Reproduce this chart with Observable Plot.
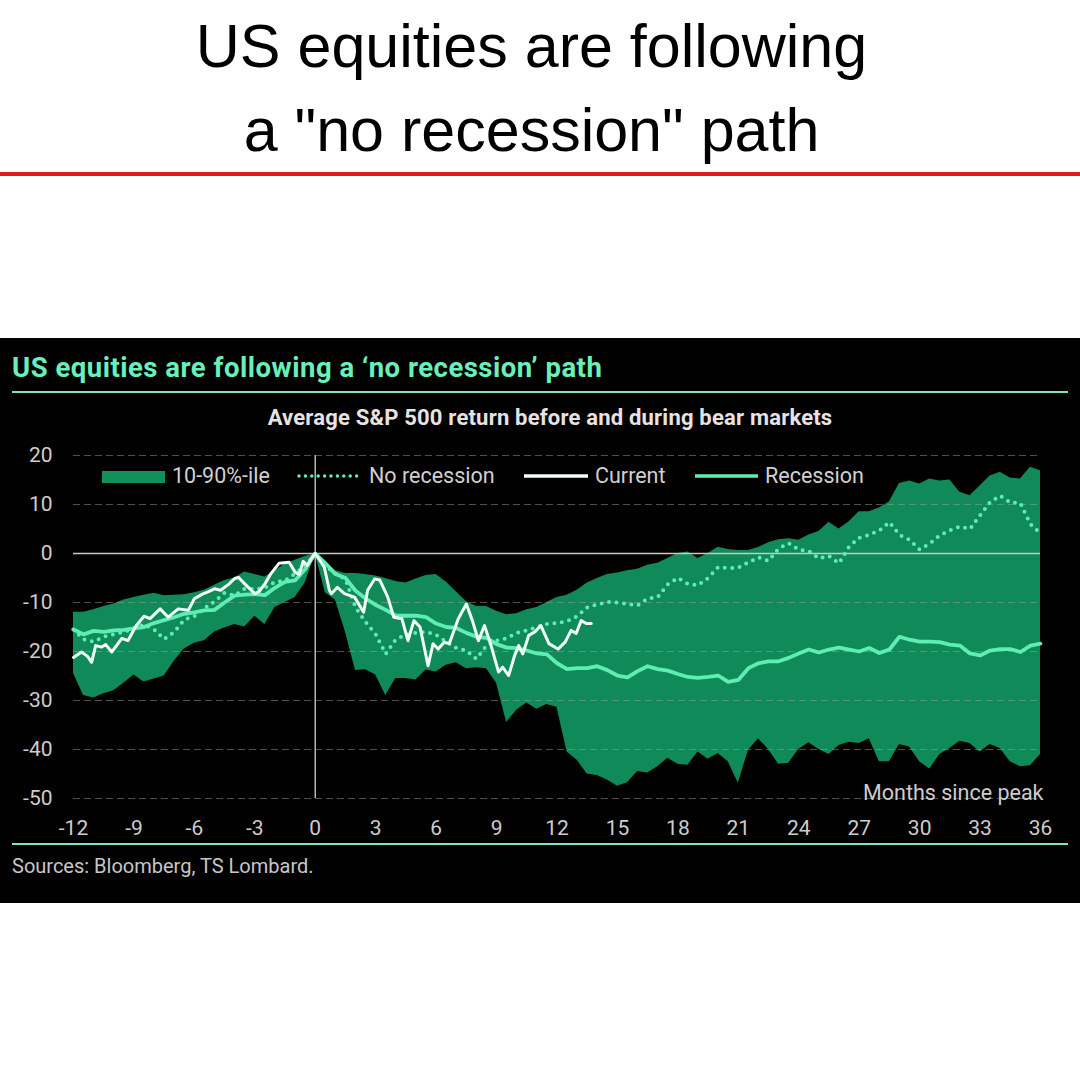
<!DOCTYPE html>
<html><head><meta charset="utf-8">
<script src="https://cdn.jsdelivr.net/npm/d3@7"></script>
<script src="https://cdn.jsdelivr.net/npm/@observablehq/plot@0.6"></script>
<style>
html,body{margin:0;padding:0}
body{width:1080px;height:1080px;background:#fff;position:relative;overflow:hidden;font-family:Roboto,"Noto Sans",sans-serif}
#title{position:absolute;left:0;top:4px;width:1063px;text-align:center;font-family:"Liberation Sans",Arial,sans-serif;font-size:61px;line-height:84px;color:#000}
#redline{position:absolute;left:0;top:172px;width:1080px;height:4px;background:#e01b1b}
#panel{position:absolute;left:0;top:338px;width:1080px;height:565px;background:#000}
#ptitle{position:absolute;left:12px;top:16px;font-size:27.5px;line-height:27.5px;letter-spacing:0.5px;font-weight:bold;color:#6aefbb;white-space:nowrap}
.hr{position:absolute;left:12px;width:1056px;height:1.5px;background:#7fe3c0}
#psub{position:absolute;left:20px;width:1060px;top:69px;text-align:center;font-size:22px;line-height:22px;letter-spacing:0.2px;font-weight:bold;color:#e8e2e2;white-space:nowrap}
#chart{position:absolute;left:0;top:102px}
.lg{position:absolute;font-size:21.5px;line-height:21.5px;color:#d2cfcf;white-space:nowrap}
.sw{position:absolute}
#source{position:absolute;left:12px;top:518px;font-size:20px;line-height:20px;color:#c8c6c6;white-space:nowrap}
</style></head><body>
<div id="title">US equities are following<br>a "no recession" path</div>
<div id="redline"></div>
<div id="panel">
  <div id="ptitle">US equities are following a ‘no recession’ path</div>
  <div class="hr" style="top:53px"></div>
  <div id="psub">Average S&amp;P 500 return before and during bear markets</div>
  <div id="chart"></div>
  <div id="legend"></div>
  <div class="hr" style="top:505px"></div>
  <div id="source">Sources: Bloomberg, TS Lombard.</div>
</div>
<script>
// ---- data ----
const months = [
 -12,-11.5,-11,-10.5,-10,-9.5,-9,-8.5,-8,-7.5,-7,-6.5,-6,-5.5,-5,-4.5,-4,-3.5,-3,-2.5,-2,-1.5,-1,-0.5,
 0,0.5,1,1.5,2,2.5,3,3.5,4,4.5,5,5.5,6,6.5,7,7.5,8,8.5,9,9.5,10,10.5,11,11.5,
 12,12.5,13,13.5,14,14.5,15,15.5,16,16.5,17,17.5,18,18.5,19,19.5,20,20.5,21,21.5,22,22.5,23,23.5,
 24,24.5,25,25.5,26,26.5,27,27.5,28,28.5,29,29.5,30,30.5,31,31.5,32,32.5,33,33.5,34,34.5,35,35.5,
 36];
const bandUpper = [
 -12,-12,-11.5,-10.8,-10.3,-9.5,-9,-8.5,-8.1,-8.6,-8.5,-8.4,-8,-7.5,-6.5,-5.5,-5,-3.8,-4.3,-4.8,-3.5,-2.2,-1.4,-0.6,
 0,-1.5,-3.5,-4.1,-4.1,-4.3,-4.6,-5.1,-5.7,-6,-5.2,-4.5,-4.3,-5.8,-7.8,-9.8,-10.8,-10.8,-11.8,-12.5,-12.3,-11.5,-11,-10,
 -9,-8.5,-7.5,-6,-5.1,-4.3,-4,-3.5,-3.2,-2.4,-2,-1,0,0.3,-1,0,1.3,0.8,0.6,0.6,1.2,2.2,2.8,3,
 2.7,3.8,4.5,6.4,5,6.5,8.5,8.5,9.3,10.5,14.3,14.8,14.2,15.2,14.8,15,12.5,11.8,13.8,15.8,16.6,15.4,15.2,17.6,
 16.9];
const bandLower = [
 -24.5,-29,-29.5,-28.6,-28,-26.5,-24.8,-26.2,-25.6,-25,-22,-19.5,-18.3,-17.8,-16,-15.2,-14.5,-15,-12.8,-14.5,-11,-10,-9,-6,
 0,-8,-9.5,-16,-23.9,-23.7,-24.8,-29,-25.5,-25.5,-25.8,-23.8,-24.2,-22.8,-22.3,-23.5,-23.3,-23.5,-26.5,-34.5,-32,-30.5,-31.8,-30.8,
 -31.4,-40.5,-42.2,-45,-45.3,-46.2,-47.5,-46.8,-44.5,-44.8,-43.5,-41.8,-43,-43.2,-40.5,-42,-40.8,-42.5,-46.9,-40.2,-37.8,-40,-43,-42.8,
 -40,-38.6,-40,-41,-39.2,-38.5,-38.8,-37.8,-42.5,-42.5,-39,-39.5,-42.5,-44,-41,-39.8,-38.3,-38.8,-40.5,-39,-39.8,-42.5,-43.5,-43.3,
 -41];
const recession = [
 -15.5,-16.5,-15.8,-16,-15.7,-15.6,-15.3,-15,-14.2,-13.6,-13,-12.3,-12,-11.6,-11.5,-10,-8.6,-8.4,-8.3,-8.5,-7,-5.8,-5.5,-3.2,
 0,-2,-4.2,-5,-7.6,-9.2,-10.5,-11.5,-12.7,-12.7,-12.7,-13,-14.3,-15,-15.2,-16.2,-17,-17.2,-18.5,-19.2,-19.3,-19.8,-20.4,-20.6,
 -22.4,-23.6,-23.4,-23.4,-23,-23.8,-24.9,-25.3,-24,-23,-23.6,-23.9,-24.6,-25.2,-25.4,-25.2,-24.9,-26.2,-25.8,-23.4,-22.4,-22,-22,-21.3,
 -20.4,-19.6,-20.2,-19.6,-19.2,-19.6,-20,-19.3,-20.3,-19.6,-17,-17.6,-18,-18,-18.1,-18.6,-18.8,-20.4,-20.8,-19.8,-19.5,-19.5,-20.1,-18.8,
 -18.4];
const noRecession = [
 -15.5,-17.5,-18,-17,-16.5,-16,-15.3,-14.5,-15.5,-17.5,-16,-13.5,-12.8,-11.2,-9.8,-8,-8.6,-7.2,-7.3,-7,-5.8,-5.5,-4.1,-2.5,
 0,-2.5,-4.1,-5.3,-11,-14,-16.5,-20.5,-17.5,-16.6,-16.2,-16,-16.6,-18,-19.3,-19.8,-21.5,-18.8,-17.8,-17.3,-16.2,-15.7,-15,-14.4,
 -14.2,-13.8,-12.8,-11,-10.4,-9.9,-10,-10.3,-10.6,-9.2,-8.9,-6.3,-5,-6.2,-6.5,-5,-2.8,-3,-2.9,-1.8,-0.8,-1.5,1,2.1,
 0.8,0.5,-1,-0.5,-2,1.4,3.2,3.8,4.7,6.4,3.8,2.8,0.8,2,3.7,4.7,5.5,5,7.8,10.5,11.8,10.4,10.3,6,
 4.1];
const currentMonths = [-12,-11.6,-11.3,-11.1,-10.9,-10.6,-10.4,-10.1,-9.6,-9.3,-8.9,-8.5,-8.2,-7.7,-7.3,-6.8,-6.3,-6,-5.6,-5.3,-5,-4.7,-4.3,-4,-3.8,-3.5,-3.3,-3,-2.8,-2.5,-2.2,-1.8,-1.3,-1,-0.8,-0.6,-0.4,-0.2,0,0.45,0.7,0.8,1.1,1.45,1.95,2.4,2.6,2.95,3.2,3.6,3.9,4.3,4.6,4.9,5.2,5.6,5.85,6.1,6.4,6.65,7.1,7.5,7.8,8.1,8.4,8.7,9.1,9.3,9.6,9.9,10.1,10.3,10.6,10.9,11.2,11.6,12.05,12.4,12.7,12.95,13.2,13.45,13.7];
const currentValues = [-21.2,-20.1,-21,-22.2,-18.8,-19.1,-18.6,-20.1,-17.3,-17.8,-14.8,-12.8,-13.3,-11.3,-13,-11.3,-11.6,-9.2,-8.3,-7.8,-7.2,-7.5,-6.3,-5.1,-4.9,-6.2,-7,-8.2,-7.8,-6.2,-4.1,-2,-1.8,-3.8,-4.3,-1.6,-2.4,-1,0,-2.8,-7.5,-8.2,-6.9,-8.2,-8.9,-12,-7.5,-5.2,-5.4,-8.9,-13,-13.3,-17.8,-13.7,-15,-22.9,-18.4,-19.5,-18.1,-18.4,-13.3,-10.3,-13.7,-17.8,-14.7,-18.4,-24.2,-23.2,-24.9,-20.8,-18.8,-20.5,-16.7,-16,-14.7,-18.4,-19.5,-18.1,-15.7,-16.3,-13.7,-14.3,-14.3];
const xTicks = [-12,-9,-6,-3,0,3,6,9,12,15,18,21,24,27,30,33,36];
const yTicks = [20,10,0,-10,-20,-30,-40,-50];
const legendLabels = ["10-90%-ile","No recession","Current","Recession"];
const xLabel = "Months since peak";

// ---- colours ----
const BAND = "#0f8a58", MINT = "#5eedb3", WHITE = "#f0fff8";

const table = months.map((m,i)=>({month:m, upper:bandUpper[i], lower:bandLower[i], recession:recession[i], noRecession:noRecession[i]}));
const current = currentMonths.map((m,i)=>({month:m, value:currentValues[i]}));

const chart = Plot.plot({
  width:1080, height:400,
  marginTop:15, marginBottom:42, marginLeft:73, marginRight:40,
  style:{background:"transparent", color:"#cfcccc", fontFamily:"Roboto, sans-serif", fontSize:"21px"},
  x:{domain:[-12,36], ticks:xTicks, label:null, tickSize:0, tickPadding:22, tickFormat:d=>String(d)},
  y:{domain:[-50,20], ticks:yTicks, label:null, tickSize:0, tickPadding:21, tickFormat:d=>String(d)},
  marks:[
    Plot.areaY(table,{x:"month", y1:"lower", y2:"upper", fill:BAND}),
    Plot.ruleY(yTicks.filter(d=>d!==0),{stroke:"#a0a0a0", strokeOpacity:0.5, strokeDasharray:"7,4", strokeWidth:1.2}),
    Plot.ruleX([0],{stroke:"#b5b5b5", strokeWidth:1.5}),
    Plot.ruleY([0],{stroke:"#c8c8c8", strokeWidth:1.5}),
    Plot.lineY(table,{x:"month", y:"noRecession", stroke:MINT, strokeWidth:4, strokeDasharray:"0,7.5", strokeLinecap:"round"}),
    Plot.lineY(table,{x:"month", y:"recession", stroke:MINT, strokeWidth:3.8}),
    Plot.lineY(current,{x:"month", y:"value", stroke:WHITE, strokeWidth:3}),
    Plot.text([xLabel],{x:36, y:-50, text:d=>d, textAnchor:"end", lineAnchor:"bottom", dx:3, dy:1, fill:"#cfcccc", fontSize:21.5})
  ]
});
document.getElementById("chart").appendChild(chart);

// ---- legend (HTML overlay) ----
const lg = document.getElementById("legend");
const swatches = [
  {x:102, w:63, kind:"rect"},
  {x:298, w:64, kind:"dots"},
  {x:524, w:64, kind:"white"},
  {x:695, w:63, kind:"mint"}
];
const textX = [172, 369, 595, 765];
swatches.forEach((s,i)=>{
  const sv = d3.create("svg").attr("class","sw").attr("width",s.w+4).attr("height",16)
    .style("left",(s.x-2)+"px").style("top","130px");
  if (s.kind==="rect") sv.append("rect").attr("x",2).attr("y",3).attr("width",s.w).attr("height",12).attr("fill","#12905c");
  else if (s.kind==="dots") sv.append("line").attr("x1",3).attr("x2",s.w+1).attr("y1",8).attr("y2",8).attr("stroke",MINT).attr("stroke-width",3.5).attr("stroke-dasharray","0,6.4").attr("stroke-linecap","round");
  else sv.append("line").attr("x1",2).attr("x2",s.w+2).attr("y1",8).attr("y2",8).attr("stroke",s.kind==="white"?WHITE:MINT).attr("stroke-width",3.5);
  lg.appendChild(sv.node());
  const t = document.createElement("div");
  t.className = "lg"; t.textContent = legendLabels[i];
  t.style.left = textX[i]+"px"; t.style.top = "127px";
  lg.appendChild(t);
});
</script>
</body></html>
